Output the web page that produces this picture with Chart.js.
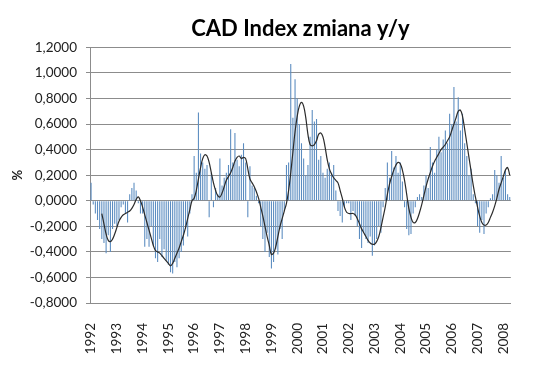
<!DOCTYPE html>
<html>
<head>
<meta charset="utf-8">
<script src="https://cdn.jsdelivr.net/npm/chart.js@4"></script>
<style>
  body { margin: 0; background: #fff; }
  #cad-chart { display: block; }
</style>
</head>
<body>
<canvas id="cad-chart" width="538" height="368"></canvas>
<script>
// year labels shown under the axis, one per 12 months
var yearLabels = ['1992', '1993', '1994', '1995', '1996', '1997', '1998', '1999', '2000',
                  '2001', '2002', '2003', '2004', '2005', '2006', '2007', '2008'];

// monthly change y/y (bars), Jan 1992 - Apr 2008
var changeValues = [
     0.14, -0.03, -0.10, -0.15, -0.22, -0.30, -0.33, -0.41, -0.27, -0.40, -0.22, -0.18, // 1992
    -0.20, -0.15, -0.05, -0.03, -0.10, -0.17,  0.05,  0.10,  0.14,  0.08, -0.02, -0.10, // 1993
    -0.10, -0.36, -0.30, -0.36, -0.20, -0.35, -0.45, -0.48, -0.30, -0.44, -0.38, -0.47, // 1994
    -0.50, -0.56, -0.57, -0.48, -0.52, -0.45, -0.40, -0.35, -0.22, -0.28, -0.10,  0.05, // 1995
     0.35,  0.22,  0.69,  0.37,  0.30,  0.25,  0.28, -0.13,  0.22, -0.05,  0.10,  0.05, // 1996
     0.33,  0.12,  0.18,  0.22,  0.28,  0.56,  0.30,  0.53,  0.32,  0.27,  0.36,  0.45, // 1997
     0.30, -0.13,  0.27,  0.12,  0.10,  0.04, -0.02, -0.20, -0.30, -0.40, -0.25, -0.44, // 1998
    -0.53, -0.48, -0.38, -0.42, -0.22, -0.30, -0.08,  0.28,  0.30,  1.07,  0.65,  0.95, // 1999
     0.80,  0.60,  0.45,  0.33,  0.20,  0.28,  0.50,  0.71,  0.62,  0.64,  0.32,  0.35, // 2000
     0.22,  0.18,  0.25,  0.30,  0.22,  0.28,  0.08, -0.08, -0.12, -0.17, -0.05, -0.02, // 2001
    -0.02, -0.15, -0.08, -0.12, -0.20, -0.30, -0.37, -0.25, -0.30, -0.33, -0.28, -0.43, // 2002
    -0.35, -0.30, -0.20, -0.25, -0.05,  0.10,  0.30,  0.18,  0.39,  0.26,  0.35,  0.22, // 2003
     0.30,  0.15, -0.05, -0.22, -0.27, -0.26, -0.10, -0.05,  0.03,  0.05,  0.03,  0.12, // 2004
     0.20,  0.10,  0.42,  0.30,  0.22,  0.40,  0.50,  0.38,  0.48,  0.55,  0.45,  0.68, // 2005
     0.60,  0.89,  0.62,  0.81,  0.55,  0.68,  0.45,  0.35,  0.20,  0.25,  0.05, -0.02, // 2006
    -0.20, -0.25, -0.15, -0.26, -0.10, -0.05,  0.02,  0.05,  0.24,  0.20,  0.14,  0.35, // 2007
     0.18,  0.25,  0.05,  0.03                                                          // 2008
];

// smoothed trend line drawn over the bars
var trendValues = [
     null,  null,  null,  null,  null, -0.10, -0.18, -0.26, -0.31, -0.32, -0.30, -0.26, // 1992
    -0.21, -0.16, -0.13, -0.11, -0.10, -0.09, -0.08, -0.06, -0.03,  0.01,  0.03,  0.00, // 1993
    -0.05, -0.11, -0.17, -0.23, -0.29, -0.35, -0.39, -0.40, -0.41, -0.43, -0.45, -0.47, // 1994
    -0.49, -0.51, -0.49, -0.45, -0.41, -0.37, -0.32, -0.27, -0.21, -0.14, -0.07,  0.00, // 1995
     0.02,  0.08,  0.17,  0.26,  0.33,  0.36,  0.35,  0.30,  0.22,  0.14,  0.08,  0.04, // 1996
     0.03,  0.06,  0.11,  0.16,  0.19,  0.22,  0.26,  0.31,  0.34,  0.35,  0.33,  0.34, // 1997
     0.33,  0.25,  0.17,  0.14,  0.11,  0.07,  0.02, -0.05, -0.12, -0.20, -0.28, -0.35, // 1998
    -0.42, -0.41, -0.36, -0.28, -0.20, -0.14, -0.08, -0.02,  0.08,  0.22,  0.38,  0.54, // 1999
     0.66,  0.74,  0.77,  0.74,  0.65,  0.52,  0.44,  0.43,  0.44,  0.47,  0.52,  0.53, // 2000
     0.50,  0.42,  0.32,  0.25,  0.21,  0.18,  0.16,  0.14,  0.08,  0.02, -0.05, -0.09, // 2001
    -0.10, -0.10, -0.10, -0.11, -0.14, -0.18, -0.22, -0.25, -0.28, -0.31, -0.33, -0.34, // 2002
    -0.34, -0.32, -0.28, -0.21, -0.13, -0.05,  0.05,  0.13,  0.19,  0.24,  0.28,  0.30, // 2003
     0.29,  0.24,  0.16,  0.05, -0.06, -0.13, -0.17, -0.17, -0.14, -0.09, -0.03,  0.04, // 2004
     0.11,  0.17,  0.22,  0.27,  0.31,  0.34,  0.37,  0.40,  0.42,  0.44,  0.47,  0.50, // 2005
     0.55,  0.60,  0.65,  0.70,  0.71,  0.66,  0.56,  0.45,  0.34,  0.23,  0.12,  0.03, // 2006
    -0.05, -0.12, -0.17, -0.19, -0.19, -0.17, -0.13, -0.09, -0.04,  0.02,  0.09,  0.14, // 2007
     0.19,  0.24,  0.26,  0.20                                                          // 2008
];

// one category per month
var monthLabels = [];
for (var i = 0; i < changeValues.length; i++) {
    monthLabels.push(yearLabels[Math.floor(i / 12)] + '-' + (i % 12 + 1));
}

function plNumber(v) {
    if (Math.abs(v) < 1e-9) v = 0;
    return v.toFixed(4).replace('.', ',');
}

// excel puts the title over the plot area, not the whole canvas
var titleOverPlot = {
    id: 'titleOverPlot',
    afterLayout: function(chart) {
        if (chart.titleBlock) {
            chart.titleBlock.left = chart.chartArea.left;
            chart.titleBlock.right = chart.chartArea.right;
        }
    }
};

var gridColor = '#8c8c8c';
var ctx = document.getElementById('cad-chart').getContext('2d');

var cadChart = new Chart(ctx, {
    type: 'bar',
    data: {
        labels: monthLabels,
        datasets: [
            {
                type: 'line',
                label: 'trend',
                data: trendValues,
                borderColor: '#2b2b2b',
                borderWidth: 1.2,
                pointRadius: 0,
                tension: 0.4,
                fill: false,
                order: 0
            },
            {
                label: 'CAD Index zmiana y/y',
                data: changeValues,
                backgroundColor: '#5b8cc0',
                barPercentage: 0.5,
                categoryPercentage: 1,
                order: 1
            }
        ]
    },
    options: {
        responsive: false,
        animation: false,
        devicePixelRatio: 1,
        layout: { padding: { left: 8, right: 17, top: 0, bottom: 0 } },
        plugins: {
            legend: { display: false },
            tooltip: { enabled: false },
            title: {
                display: true,
                text: 'CAD Index zmiana y/y',
                color: '#000',
                font: { family: 'Lato', size: 22, weight: 'bold' },
                padding: { top: 16, bottom: 5 }
            }
        },
        scales: {
            x: {
                grid: { display: false },
                border: { display: true, color: gridColor },
                ticks: {
                    autoSkip: false,
                    minRotation: 90,
                    maxRotation: 90,
                    padding: 12,
                    color: '#222',
                    font: { family: 'Lato', size: 13.5 },
                    callback: function(value, index) {
                        return index % 12 === 0 ? yearLabels[index / 12] : '';
                    }
                },
                afterFit: function(scale) { scale.height = 65; }
            },
            y: {
                min: -0.8,
                max: 1.2,
                grid: { color: gridColor, tickLength: 4 },
                border: { color: gridColor },
                ticks: {
                    stepSize: 0.2,
                    padding: 9,
                    color: '#222',
                    font: { family: 'Lato', size: 13.5 },
                    callback: function(value) { return plNumber(value); }
                },
                title: {
                    display: true,
                    text: '%',
                    color: '#222',
                    font: { family: 'Lato', size: 13, weight: 'bold' },
                    padding: { top: 2, bottom: 2 }
                },
                afterFit: function(scale) { scale.width = 82; }
            }
        }
    },
    plugins: [titleOverPlot]
});
</script>
</body>
</html>
